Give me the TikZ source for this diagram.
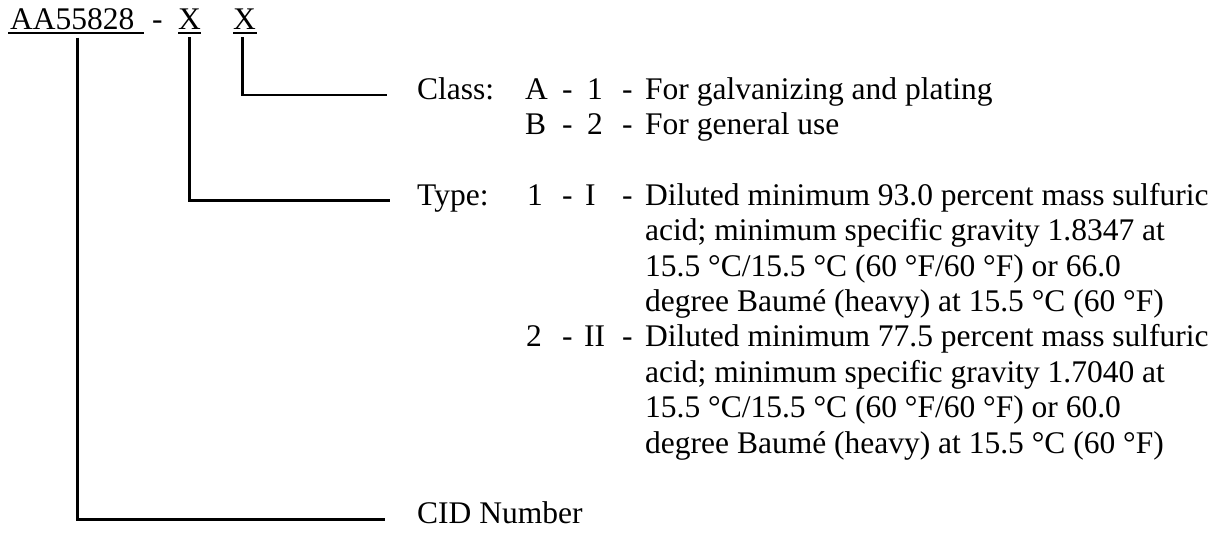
\documentclass[tikz,border=0pt]{standalone}
\usepackage{fontspec}
\setmainfont{Liberation Serif}
\tikzset{
  txt/.style={anchor=base west, inner sep=0pt, font=\fontsize{31.5}{35.4}\selectfont},
  leader/.style={draw=black, line width=2.8pt},
  uline/.style={draw=black, line width=1.6pt}
}

\begin{document}
\begin{tikzpicture}[x=1pt, y=-1pt]
\useasboundingbox (0,0) rectangle (1231,546);
% part number
\node[txt] (code) at (10,29) {AA55828};
\node[txt] (hyph) at (152,29) {-};
\node[txt] (xtype) at (178,29) {X};
\node[txt] (xclass) at (233,29) {X};
\draw[uline] ([shift={(-2pt,-4pt)}]code.base west) -- ([shift={(9pt,-4pt)}]code.base east);
\draw[uline] ([yshift=-4pt]xtype.base west) -- ([yshift=-4pt]xtype.base east);
\draw[uline] ([yshift=-4pt]xclass.base west) -- ([shift={(1pt,-4pt)}]xclass.base east);

% labels
\node[txt] (classlbl) at (417,99) {Class:};
\node[txt] (typelbl) at (417,205.2) {Type:};
\node[txt] (cidlbl) at (417,523.6) {CID Number};

% class rows
\foreach \y/\a/\b/\d [count=\i] in {99/A/1/For galvanizing and plating, 134.4/B/2/For general use} {
  \node[txt] (cla\i) at (525,\y) {\a};
  \node[txt] (clh\i) at (562,\y) {-};
  \node[txt] (clb\i) at (587,\y) {\b};
  \node[txt] (clj\i) at (622,\y) {-};
  \node[txt] (cld\i) at (645,\y) {\d};
}

% type rows
\node[txt] (tya1) at (527,205.2) {1};
\node[txt] (tyh1) at (562,205.2) {-};
\node[txt] (tyb1) at (585,205.2) {I};
\node[txt] (tyj1) at (622,205.2) {-};
\node[txt] (tya2) at (526,346.8) {2};
\node[txt] (tyh2) at (562,346.8) {-};
\node[txt] (tyb2) at (584,346.8) {II};
\node[txt] (tyj2) at (622,346.8) {-};
\foreach \t [count=\i] in {Diluted minimum 93.0 percent mass sulfuric,
    acid; minimum specific gravity 1.8347 at,
    15.5 °C/15.5 °C (60 °F/60 °F) or 66.0,
    degree Baumé (heavy) at 15.5 °C (60 °F),
    Diluted minimum 77.5 percent mass sulfuric,
    acid; minimum specific gravity 1.7040 at,
    15.5 °C/15.5 °C (60 °F/60 °F) or 60.0,
    degree Baumé (heavy) at 15.5 °C (60 °F)} {
  \node[txt] (tyd\i) at (645,{205.2+35.4*(\i-1)}) {\t};
}

% leaders
\draw[leader] ([xshift=-2pt,yshift=-8pt]xclass.south) |- ([xshift=-30pt,yshift=4pt]classlbl.base west);
\draw[leader] ([yshift=-8pt]xtype.south) |- ([xshift=-27pt,yshift=5pt]typelbl.base west);
\draw[leader] ([xshift=5pt,yshift=-8pt]code.south) |- ([xshift=-32pt,yshift=4pt]cidlbl.base west);
\end{tikzpicture}
\end{document}
